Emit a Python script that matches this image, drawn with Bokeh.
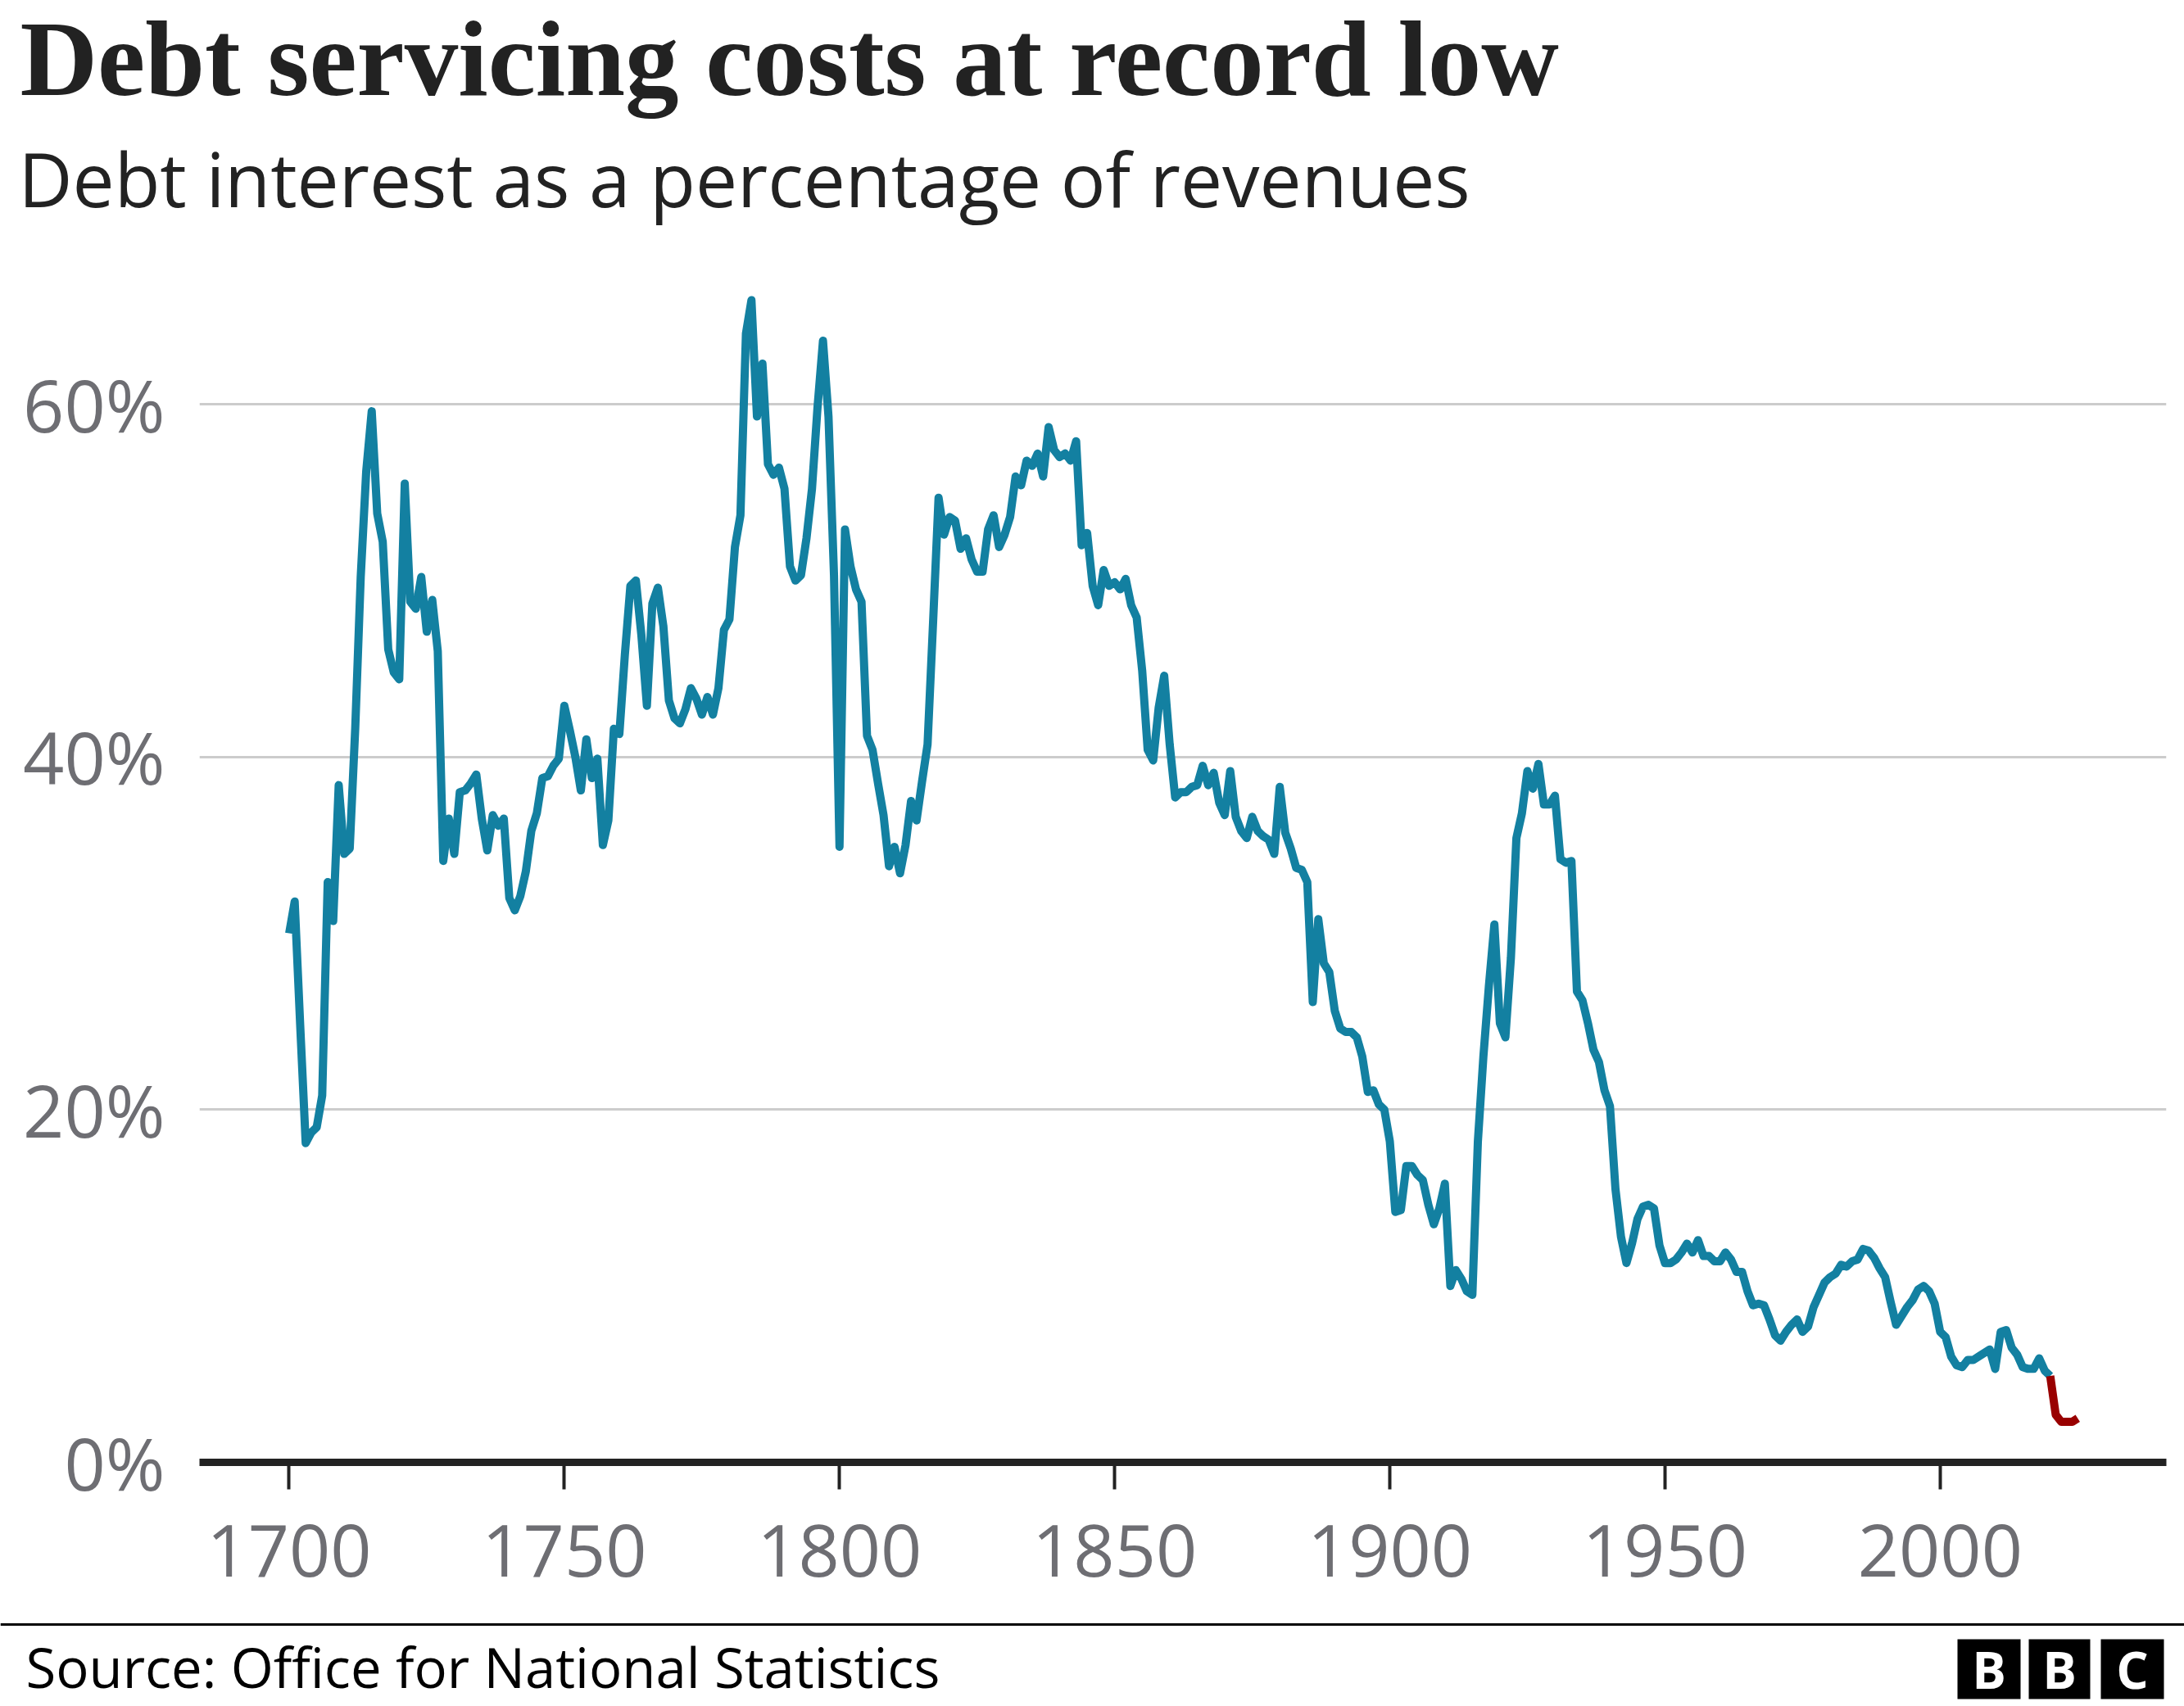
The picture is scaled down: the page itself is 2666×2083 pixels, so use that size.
from bokeh.plotting import figure
from bokeh.models import Range1d, FixedTicker, PrintfTickFormatter
from bokeh.embed import file_html
from bokeh.resources import INLINE
from bokeh.core.properties import value

# ---------------- data ----------------
title_text = "Debt servicing costs at record low"
subtitle_text = "Debt interest as a percentage of revenues"
source_text = "Source: Office for National Statistics"

years = [
    1700, 1701, 1702, 1703, 1704, 1705, 1706, 1707, 1708, 1709,
    1710, 1711, 1712, 1713, 1714, 1715, 1716, 1717, 1718, 1719,
    1720, 1721, 1722, 1723, 1724, 1725, 1726, 1727, 1728, 1729,
    1730, 1731, 1732, 1733, 1734, 1735, 1736, 1737, 1738, 1739,
    1740, 1741, 1742, 1743, 1744, 1745, 1746, 1747, 1748, 1749,
    1750, 1751, 1752, 1753, 1754, 1755, 1756, 1757, 1758, 1759,
    1760, 1761, 1762, 1763, 1764, 1765, 1766, 1767, 1768, 1769,
    1770, 1771, 1772, 1773, 1774, 1775, 1776, 1777, 1778, 1779,
    1780, 1781, 1782, 1783, 1784, 1785, 1786, 1787, 1788, 1789,
    1790, 1791, 1792, 1793, 1794, 1795, 1796, 1797, 1798, 1799,
    1800, 1801, 1802, 1803, 1804, 1805, 1806, 1807, 1808, 1809,
    1810, 1811, 1812, 1813, 1814, 1815, 1816, 1817, 1818, 1819,
    1820, 1821, 1822, 1823, 1824, 1825, 1826, 1827, 1828, 1829,
    1830, 1831, 1832, 1833, 1834, 1835, 1836, 1837, 1838, 1839,
    1840, 1841, 1842, 1843, 1844, 1845, 1846, 1847, 1848, 1849,
    1850, 1851, 1852, 1853, 1854, 1855, 1856, 1857, 1858, 1859,
    1860, 1861, 1862, 1863, 1864, 1865, 1866, 1867, 1868, 1869,
    1870, 1871, 1872, 1873, 1874, 1875, 1876, 1877, 1878, 1879,
    1880, 1881, 1882, 1883, 1884, 1885, 1886, 1887, 1888, 1889,
    1890, 1891, 1892, 1893, 1894, 1895, 1896, 1897, 1898, 1899,
    1900, 1901, 1902, 1903, 1904, 1905, 1906, 1907, 1908, 1909,
    1910, 1911, 1912, 1913, 1914, 1915, 1916, 1917, 1918, 1919,
    1920, 1921, 1922, 1923, 1924, 1925, 1926, 1927, 1928, 1929,
    1930, 1931, 1932, 1933, 1934, 1935, 1936, 1937, 1938, 1939,
    1940, 1941, 1942, 1943, 1944, 1945, 1946, 1947, 1948, 1949,
    1950, 1951, 1952, 1953, 1954, 1955, 1956, 1957, 1958, 1959,
    1960, 1961, 1962, 1963, 1964, 1965, 1966, 1967, 1968, 1969,
    1970, 1971, 1972, 1973, 1974, 1975, 1976, 1977, 1978, 1979,
    1980, 1981, 1982, 1983, 1984, 1985, 1986, 1987, 1988, 1989,
    1990, 1991, 1992, 1993, 1994, 1995, 1996, 1997, 1998, 1999,
    2000, 2001, 2002, 2003, 2004, 2005, 2006, 2007, 2008, 2009,
    2010, 2011, 2012, 2013, 2014, 2015, 2016, 2017, 2018, 2019,
    2020,
]

interest_pct = [
    30.0, 31.8, 24.8, 18.1, 18.7, 19.0, 20.8, 32.9, 30.7, 38.4,
    34.5, 34.8, 41.6, 50.2, 56.2, 59.6, 53.8, 52.2, 46.1, 44.8,
    44.4, 55.5, 48.8, 48.4, 50.2, 47.1, 48.9, 46.0, 34.1, 36.5,
    34.5, 38.0, 38.1, 38.5, 39.0, 36.5, 34.7, 36.7, 36.1, 36.5,
    32.0, 31.3, 32.1, 33.5, 35.8, 36.8, 38.8, 38.9, 39.5, 39.9,
    42.9, 41.5, 40.0, 38.1, 41.0, 38.8, 39.9, 35.0, 36.4, 41.6,
    41.3, 45.8, 49.7, 50.0, 46.9, 42.9, 48.7, 49.6, 47.4, 43.2,
    42.2, 41.9, 42.7, 43.9, 43.3, 42.4, 43.4, 42.4, 43.9, 47.2,
    47.8, 51.9, 53.7, 64.0, 65.9, 59.3, 62.3, 56.6, 56.0, 56.4,
    55.2, 50.8, 50.0, 50.3, 52.4, 55.2, 59.8, 63.6, 59.3, 50.3,
    34.9, 52.9, 50.8, 49.5, 48.8, 41.2, 40.4, 38.5, 36.7, 33.8,
    34.9, 33.4, 35.0, 37.5, 36.4, 38.6, 40.7, 47.6, 54.7, 52.6,
    53.6, 53.4, 51.8, 52.4, 51.2, 50.5, 50.5, 52.9, 53.7, 51.9,
    52.6, 53.6, 55.9, 55.4, 56.8, 56.5, 57.2, 55.9, 58.7, 57.4,
    57.0, 57.2, 56.8, 57.9, 52.0, 52.7, 49.7, 48.6, 50.6, 49.7,
    49.9, 49.5, 50.1, 48.6, 47.9, 44.9, 40.4, 39.8, 42.8, 44.6,
    40.7, 37.7, 38.0, 38.0, 38.3, 38.4, 39.5, 38.4, 39.1, 37.4,
    36.7, 39.2, 36.6, 35.8, 35.4, 36.6, 35.8, 35.5, 35.3, 34.5,
    38.3, 35.7, 34.8, 33.7, 33.6, 32.9, 26.1, 30.8, 28.3, 27.8,
    25.6, 24.6, 24.4, 24.4, 24.1, 23.0, 21.0, 21.1, 20.3, 20.0,
    18.2, 14.2, 14.3, 16.8, 16.8, 16.3, 16.0, 14.6, 13.5, 14.4,
    15.8, 10.0, 10.9, 10.4, 9.7, 9.5, 18.2, 23.0, 27.0, 30.5,
    24.9, 24.1, 28.6, 35.4, 36.8, 39.2, 38.2, 39.6, 37.3, 37.3,
    37.8, 34.2, 34.0, 34.1, 26.7, 26.2, 24.9, 23.4, 22.7, 21.1,
    20.2, 15.5, 12.8, 11.3, 12.4, 13.8, 14.5, 14.6, 14.4, 12.3,
    11.3, 11.3, 11.5, 11.9, 12.4, 11.9, 12.6, 11.7, 11.7, 11.4,
    11.4, 11.9, 11.5, 10.8, 10.8, 9.7, 8.9, 9.0, 8.9, 8.1,
    7.2, 6.9, 7.4, 7.8, 8.1, 7.4, 7.7, 8.8, 9.5, 10.2,
    10.5, 10.7, 11.2, 11.1, 11.4, 11.5, 12.1, 12.0, 11.6, 11.0,
    10.5, 9.1, 7.8, 8.3, 8.8, 9.2, 9.8, 10.0, 9.7, 9.0,
    7.4, 7.1, 6.0, 5.5, 5.4, 5.8, 5.8, 6.0, 6.2, 6.4,
    5.3, 7.4, 7.5, 6.5, 6.1, 5.4, 5.3, 5.3, 5.9, 5.2,
    4.9,
]

forecast_years = [2020, 2021, 2022, 2023, 2024, 2025]
forecast_pct = [4.9, 2.7, 2.3, 2.3, 2.3, 2.5]

x_ticks = [1700, 1750, 1800, 1850, 1900, 1950, 2000]
y_ticks = [0, 20, 40, 60]
grid_ticks = [20, 40, 60]

# ---------------- style ----------------
W = 2666
BLUE = "#1380A1"
RED = "#990000"
DARK = "#222222"
GREY = "#6e6e73"
SANS = "Open Sans"

# ---------------- header ----------------
HH = 330
header = figure(width=W, height=HH, x_range=Range1d(0, W), y_range=Range1d(HH, 0),
                output_backend="svg", toolbar_location=None,
                x_axis_location=None, y_axis_location=None,
                min_border=0, outline_line_color=None)
header.grid.visible = False
header.text(x=[24], y=[71], text=[title_text], text_font=value("Liberation Serif"),
            text_font_size="131px", text_font_style="bold", text_color=DARK,
            text_align="left", text_baseline="alphabetic")
header.text(x=[22], y=[217], text=[subtitle_text], text_font=value(SANS),
            text_font_size="91px", text_color=DARK,
            text_align="left", text_baseline="alphabetic")

# ---------------- main chart ----------------
MH = 1645
main = figure(width=W, height=MH, x_range=Range1d(1683.70, 2041.11), y_range=Range1d(0, 67.57),
              output_backend="svg", toolbar_location=None,
              min_border_left=243, min_border_right=22, min_border_top=0, min_border_bottom=190,
              outline_line_color=None)

main.line(years, interest_pct, line_color=BLUE, line_width=10, line_join="round")
main.line(forecast_years, forecast_pct, line_color=RED, line_width=10, line_join="round")

main.xgrid.visible = False
main.ygrid[0].ticker = FixedTicker(ticks=grid_ticks)
main.ygrid.grid_line_color = "#cccccc"
main.ygrid.grid_line_width = 3

xa = main.xaxis[0]
xa.ticker = FixedTicker(ticks=x_ticks)
xa.axis_line_width = 9
xa.axis_line_color = DARK
xa.major_tick_line_color = DARK
xa.major_tick_line_width = 4
xa.major_tick_out = 33
xa.major_tick_in = 0
xa.minor_tick_line_color = None
xa.major_label_text_font = SANS
xa.major_label_text_font_size = "88px"
xa.major_label_text_color = GREY
xa.major_label_standoff = 43

ya = main.yaxis[0]
ya.ticker = FixedTicker(ticks=y_ticks)
ya.formatter = PrintfTickFormatter(format="%d%%")
ya.axis_line_color = None
ya.major_tick_line_color = None
ya.minor_tick_line_color = None
ya.major_tick_out = 0
ya.major_tick_in = 0
ya.major_label_text_font = SANS
ya.major_label_text_font_size = "88px"
ya.major_label_text_color = GREY
ya.major_label_standoff = 42

# ---------------- footer ----------------
FH = 108
footer = figure(width=W, height=FH, x_range=Range1d(0, W), y_range=Range1d(FH, 0),
                output_backend="svg", toolbar_location=None,
                x_axis_location=None, y_axis_location=None,
                min_border=0, outline_line_color=None)
footer.grid.visible = False
footer.segment(x0=[0], y0=[8], x1=[W], y1=[8], line_color="#000000", line_width=3)
footer.text(x=[31], y=[59], text=[source_text], text_font=value(SANS),
            text_font_size="67px", text_color="#000000",
            text_align="left", text_baseline="alphabetic")
footer.quad(left=[2389, 2476, 2564], right=[2466, 2551, 2641], top=[26, 26, 26], bottom=[99, 99, 99],
            fill_color="#000000", line_color=None)
footer.text(x=[2427.5, 2513.5, 2602.5], y=[62, 62, 62], text=["B", "B", "C"], text_font=value(SANS),
            text_font_size="62px", text_font_style="bold", text_color="#ffffff",
            text_align="center", text_baseline="middle")

# separate roots so that the frames are not aligned to each other
open("out.html", "w").write(file_html([header, main, footer], INLINE))
